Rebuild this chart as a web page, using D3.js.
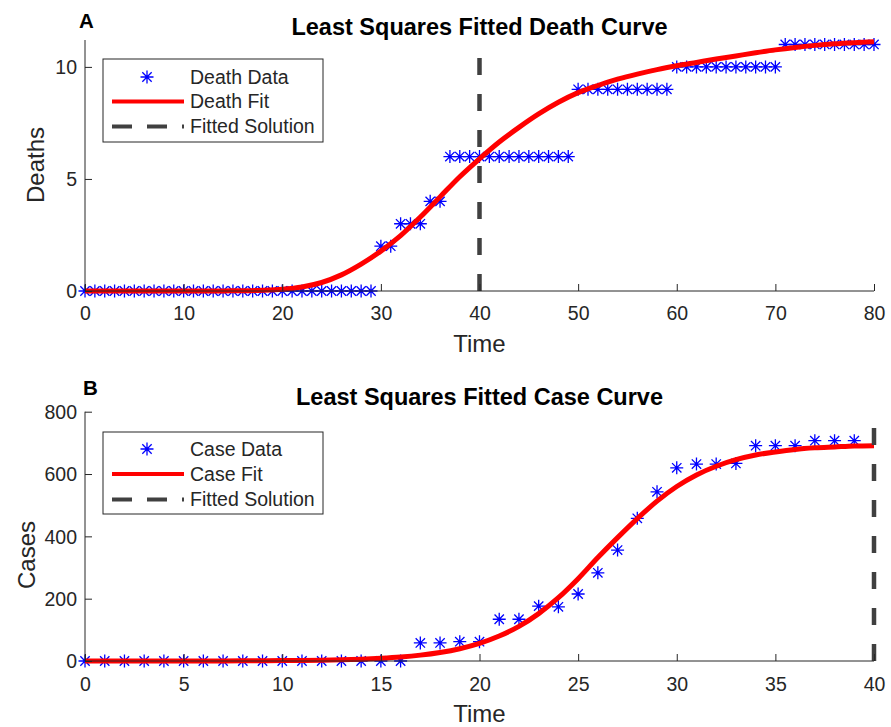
<!DOCTYPE html>
<html>
<head>
<meta charset="utf-8">
<script src="https://cdn.jsdelivr.net/npm/d3@7"></script>
<style>
  html, body { margin: 0; padding: 0; background: #fff; }
  svg { display: block; font-family: "Liberation Sans", Arial, Helvetica, sans-serif; }
</style>
</head>
<body>
<svg id="chart" width="891" height="727"></svg>
<script>
// ---- Panel A: cumulative deaths by day ----
const deathDays = d3.range(0, 81);
const deathCounts = [
  0,0,0,0,0,0,0,0,0,0,
  0,0,0,0,0,0,0,0,0,0,
  0,0,0,0,0,0,0,0,0,0,
  2,2,3,3,3,4,4,6,6,6,
  6,6,6,6,6,6,6,6,6,6,
  9,9,9,9,9,9,9,9,9,9,
  10,10,10,10,10,10,10,10,10,10,
  10,11,11,11,11,11,11,11,11,11,
  11
];
// least-squares fitted death curve, sampled every 2 days
const deathFitDays = d3.range(0, 81, 2);
const deathFitValues = [
  0,0,0,0,0,0.001,0.002,0.005,0.012,0.035,
  0.08,0.18,0.38,0.72,1.2,1.78,2.47,3.3,4.2,5.1,
  5.9,6.65,7.3,7.9,8.42,8.85,9.17,9.45,9.68,9.88,
  10.05,10.2,10.35,10.49,10.63,10.76,10.87,10.96,11.03,11.08,
  11.12
];
const deathSolution = 40;
const deathXTicks = [0, 10, 20, 30, 40, 50, 60, 70, 80];
const deathYTicks = [0, 5, 10];

// ---- Panel B: cumulative cases by day ----
const caseDays = d3.range(0, 40);
const caseCounts = [
  0,0,0,0,0,0,0,0,0,0,
  0,0,0,0,0,0,0,58,58,62,
  62,134,134,176,174,215,283,356,458,543,
  620,632,632,634,691,691,691,707,707,707
];
const caseFitDays = d3.range(0, 41);
const caseFitValues = [
  0.03,0.05,0.07,0.1,0.15,0.2,0.3,0.4,0.6,0.9,
  1.3,1.9,2.8,4.1,6.0,8.9,12.9,18.8,27.4,39.5,
  56.5,80,111,152,203,264,332,396,457,513,
  560,597,625,646,661,671,679,684,687,690,
  691
];
const caseSolution = 40;
const caseXTicks = [0, 5, 10, 15, 20, 25, 30, 35, 40];
const caseYTicks = [0, 200, 400, 600, 800];

const svg = d3.select("#chart");
svg.append("rect").attr("width", 891).attr("height", 727).attr("fill", "#fff");

const AXIS = "#262626";
const BLUE = "#0000ff";
const RED = "#ff0000";
const DASH = "#404040";
const FONT = "Liberation Sans, Arial, sans-serif";

// asterisk marker: plus + cross, like the '*' plot symbol
function starPath(r) {
  const a = r * 0.72;
  return `M0,${-r}V${r}M${-r},0H${r}M${-a},${-a}L${a},${a}M${-a},${a}L${a},${-a}`;
}

function panel(cfg) {
  const g = svg.append("g");
  const x = d3.scaleLinear().domain(cfg.xDomain).range([cfg.left, cfg.right]);
  const y = d3.scaleLinear().domain(cfg.yDomain).range([cfg.bottom, cfg.top]);

  // data markers
  g.append("g").selectAll("path")
    .data(cfg.days.map((d, i) => [d, cfg.counts[i]]))
    .join("path")
    .attr("transform", d => `translate(${x(d[0])},${y(d[1])})`)
    .attr("d", starPath(6.5))
    .attr("fill", "none").attr("stroke", BLUE).attr("stroke-width", 1.3);

  // fitted curve
  const line = d3.line().x(d => x(d[0])).y(d => y(d[1])).curve(d3.curveCatmullRom.alpha(0.5));
  g.append("path")
    .datum(cfg.fitDays.map((d, i) => [d, cfg.fitValues[i]]))
    .attr("d", line)
    .attr("fill", "none").attr("stroke", RED).attr("stroke-width", 5)
    .attr("stroke-linejoin", "round").attr("stroke-linecap", "butt");

  // fitted solution marker line
  g.append("line")
    .attr("x1", x(cfg.solution)).attr("x2", x(cfg.solution))
    .attr("y1", y(cfg.yDomain[0])).attr("y2", y(cfg.yDomain[1]))
    .attr("stroke", DASH).attr("stroke-width", 4.5)
    .attr("stroke-dasharray", "17,19");

  // axes with inward ticks
  const xAxis = d3.axisBottom(x).tickValues(cfg.xTicks).tickSize(-7).tickPadding(0).tickFormat(d3.format("d"));
  const yAxis = d3.axisLeft(y).tickValues(cfg.yTicks).tickSize(-7).tickPadding(0).tickFormat(d3.format("d"));
  const gx = g.append("g").attr("transform", `translate(0,${cfg.bottom})`).call(xAxis);
  const gy = g.append("g").attr("transform", `translate(${cfg.left},0)`).call(yAxis);
  [gx, gy].forEach(a => {
    a.select(".domain").attr("stroke", AXIS).attr("stroke-width", 1);
    a.selectAll(".tick line").attr("stroke", AXIS).attr("stroke-width", 1);
    a.selectAll(".tick text").attr("fill", AXIS).attr("font-size", 19.5).attr("font-family", FONT);
  });
  gx.selectAll(".tick text").attr("y", cfg.xTickDy).attr("dy", 0);
  gy.selectAll(".tick text").attr("x", -8).attr("dy", "0.35em");
  // plain axis lines without end caps
  gx.select(".domain").attr("d", `M${cfg.left},0H${cfg.right}`);
  gy.select(".domain").attr("d", `M0,${cfg.bottom}V${cfg.top}`);

  // axis titles
  g.append("text").attr("x", (cfg.left + cfg.right) / 2).attr("y", cfg.xLabelY)
    .attr("text-anchor", "middle").attr("font-size", 24).attr("fill", AXIS).text("Time");
  g.append("text")
    .attr("transform", `translate(${cfg.yLabelX},${cfg.yLabelCY}) rotate(-90)`)
    .attr("text-anchor", "middle").attr("font-size", 24).attr("fill", AXIS).text(cfg.yLabel);

  // panel title and letter
  g.append("text").attr("x", (cfg.left + cfg.right) / 2).attr("y", cfg.titleY)
    .attr("text-anchor", "middle").attr("font-size", 23.5).attr("font-weight", "bold")
    .attr("fill", "#000").text(cfg.title);
  g.append("text").attr("x", cfg.letterX).attr("y", cfg.letterY)
    .attr("font-size", 20.5).attr("font-weight", "bold").attr("fill", "#000").text(cfg.letter);

  // legend
  const L = cfg.legend;
  const lg = g.append("g");
  lg.append("rect").attr("x", L.x).attr("y", L.y).attr("width", L.w).attr("height", L.h)
    .attr("fill", "#fff").attr("stroke", AXIS).attr("stroke-width", 1);
  const rows = L.rows;
  lg.append("path").attr("transform", `translate(${L.x + 44},${rows[0]})`)
    .attr("d", starPath(6.5)).attr("fill", "none").attr("stroke", BLUE).attr("stroke-width", 1.3);
  lg.append("line").attr("x1", L.x + 9).attr("x2", L.x + 81).attr("y1", rows[1]).attr("y2", rows[1])
    .attr("stroke", RED).attr("stroke-width", 4);
  lg.append("line").attr("x1", L.x + 9).attr("x2", L.x + 81).attr("y1", rows[2]).attr("y2", rows[2])
    .attr("stroke", DASH).attr("stroke-width", 4).attr("stroke-dasharray", "20,15");
  L.labels.forEach((t, i) => {
    lg.append("text").attr("x", L.x + 87).attr("y", rows[i]).attr("dy", "0.35em")
      .attr("font-size", 19.5).attr("fill", AXIS).text(t);
  });
}

panel({
  left: 85, right: 874, top: 40, bottom: 291,
  xDomain: [0, 80], yDomain: [0, 11.2],
  days: deathDays, counts: deathCounts,
  fitDays: deathFitDays, fitValues: deathFitValues,
  solution: deathSolution,
  xTicks: deathXTicks, yTicks: deathYTicks,
  xTickDy: 29, xLabelY: 352, yLabelX: 44, yLabelCY: 165, yLabel: "Deaths",
  title: "Least Squares Fitted Death Curve", titleY: 35,
  letter: "A", letterX: 79, letterY: 28,
  legend: { x: 103, y: 59, w: 220, h: 83, rows: [77, 101.5, 126.5],
            labels: ["Death Data", "Death Fit", "Fitted Solution"] }
});

panel({
  left: 85, right: 874, top: 411.7, bottom: 661,
  xDomain: [0, 40], yDomain: [0, 800],
  days: caseDays, counts: caseCounts,
  fitDays: caseFitDays, fitValues: caseFitValues,
  solution: caseSolution,
  xTicks: caseXTicks, yTicks: caseYTicks,
  xTickDy: 30, xLabelY: 722, yLabelX: 35, yLabelCY: 555, yLabel: "Cases",
  title: "Least Squares Fitted Case Curve", titleY: 405,
  letter: "B", letterX: 83, letterY: 395,
  legend: { x: 103, y: 432, w: 220, h: 82, rows: [449, 474, 499.5],
            labels: ["Case Data", "Case Fit", "Fitted Solution"] }
});
</script>
</body>
</html>
